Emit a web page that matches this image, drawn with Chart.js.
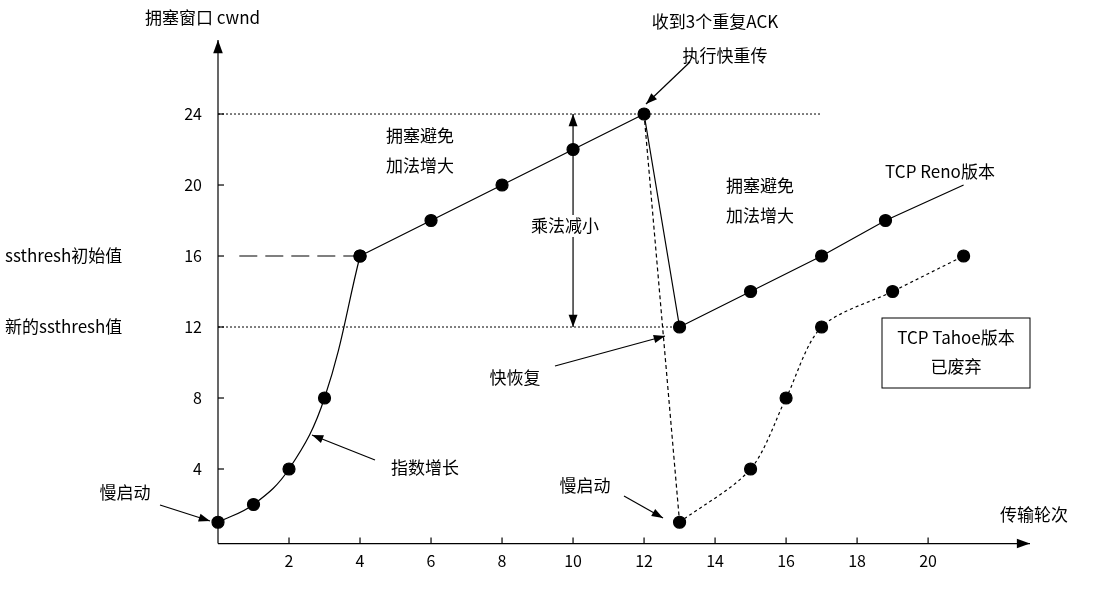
<!DOCTYPE html>
<html><head><meta charset="utf-8">
<script src="https://cdn.jsdelivr.net/npm/chart.js@4"></script>
<style>html,body{margin:0;background:#fff}#w{width:1109px;height:591px}</style>
</head><body><div id="w"><canvas id="c"></canvas></div>
<script>
const xTicks=[2,4,6,8,10,12,14,16,18,20];
const yTicks=[4,8,12,16,20,24];
const slowStart=[[0,1],[1,2],[2,4],[3,8],[4,16]];
const avoid1=[[4,16],[6,18],[8,20],[10,22],[12,24]];
const renoDrop=[[12,24],[13,12]];
const avoid2=[[13,12],[15,14],[17,16],[18.8,18],[21,20]];
const avoid2Pts=[1,1,1,1,0];
const tahoeDrop=[[12,24],[13,1]];
const tahoe=[[13,1],[15,4],[16,8],[17,12],[19,14],[21,16]];
const line24=[[0,24],[17,24]];
const line12=[[0,12],[13,12]];
const line16=[[0.6,16],[4,16]];
const P=a=>a.map(p=>({x:p[0],y:p[1]}));
const F='"Noto Sans CJK SC","Noto Sans",sans-serif';
const base={borderColor:'#000',backgroundColor:'#000',borderWidth:1.2,pointRadius:0,clip:false,fill:false};
const ds=[
 {...base,data:P(slowStart),tension:0.4,pointRadius:6},
 {...base,data:P(avoid1),pointRadius:6},
 {...base,data:P(renoDrop)},
 {...base,data:P(avoid2),pointRadius:avoid2Pts.map(v=>v*6)},
 {...base,data:P(tahoeDrop),borderDash:[4,3]},
 {...base,data:P(tahoe),tension:0.3,borderDash:[3,3],pointRadius:6},
 {...base,data:P(line24),borderDash:[2,2],borderWidth:1},
 {...base,data:P(line12),borderDash:[2,2],borderWidth:1},
 {...base,data:P(line16),borderDash:[18,8]},
];
function arrow(ctx,x1,y1,x2,y2,h=12){
 ctx.beginPath();ctx.moveTo(x1,y1);ctx.lineTo(x2,y2);ctx.stroke();
 const a=Math.atan2(y2-y1,x2-x1);
 ctx.beginPath();ctx.moveTo(x2,y2);
 ctx.lineTo(x2-h*Math.cos(a-0.35),y2-h*Math.sin(a-0.35));
 ctx.lineTo(x2-h*Math.cos(a+0.35),y2-h*Math.sin(a+0.35));ctx.closePath();ctx.fill();
}
const deco={id:'deco',afterDatasetsDraw(ch){
 const c=ch.ctx,xs=ch.scales.x,ys=ch.scales.y;
 const X=v=>xs.getPixelForValue(v),Y=v=>ys.getPixelForValue(v);
 c.save();c.strokeStyle='#000';c.fillStyle='#000';c.lineWidth=1.2;c.setLineDash([]);
 const x0=X(0),yb=Y(-0.2);
 arrow(c,x0,yb,1030,yb,14);arrow(c,x0,yb,x0,40,14);
 c.font='16px '+F;c.textAlign='center';c.textBaseline='top';
 xTicks.forEach(t=>{c.beginPath();c.moveTo(X(t),yb);c.lineTo(X(t),yb-6);c.stroke();c.fillText(t,X(t),yb+9);});
 c.textAlign='right';c.textBaseline='middle';
 yTicks.forEach(t=>{c.beginPath();c.moveTo(x0,Y(t));c.lineTo(x0+6,Y(t));c.stroke();c.fillText(t,202,Y(t));});
 arrow(c,X(10),Y(18),X(10),Y(24),13);arrow(c,X(10),Y(18),X(10),Y(12),13);
 c.font='17px '+F;c.textBaseline='middle';
 const T=(s,x,y,al='left',bg=false)=>{c.textAlign=al;if(bg){const w=c.measureText(s).width;c.fillStyle='#fff';const l=al==='center'?x-w/2:x;c.fillRect(l-2,y-11,w+4,22);c.fillStyle='#000';}c.fillText(s,x,y);};
 T('拥塞窗口 cwnd',145,18);T('传输轮次',1000,515);
 T('ssthresh初始值',5,Y(16));T('新的ssthresh值',5,Y(12));
 T('收到3个重复ACK',715,22,'center');T('执行快重传',725,56,'center');
 arrow(c,690,62,646,104);
 T('拥塞避免',420,136,'center');T('加法增大',420,166,'center');
 T('乘法减小',565,226,'center',true);
 T('拥塞避免',760,186,'center');T('加法增大',760,216,'center');
 T('TCP Reno版本',940,172,'center');
 c.lineWidth=1;c.strokeRect(882,318,148,70);
 T('TCP Tahoe版本',956,338,'center');T('已废弃',956,367,'center');
 c.lineWidth=1.2;
 T('快恢复',515,378,'center');arrow(c,555,366,665,336);
 T('慢启动',585,486,'center');arrow(c,624,496,663,518);
 T('慢启动',125,493,'center');arrow(c,160,505,210,521);
 T('指数增长',425,468,'center');arrow(c,375,460,312,435);
 c.restore();
}};
new Chart(document.getElementById('c'),{type:'line',data:{datasets:ds},
 options:{responsive:true,maintainAspectRatio:false,animation:false,
  layout:{padding:{left:218,right:79,top:40,bottom:51}},
  plugins:{legend:{display:false},tooltip:{enabled:false}},
  scales:{x:{type:'linear',min:0,max:22.87,display:false},y:{min:0,max:28.17,display:false}}},
 plugins:[deco]});
</script></body></html>
